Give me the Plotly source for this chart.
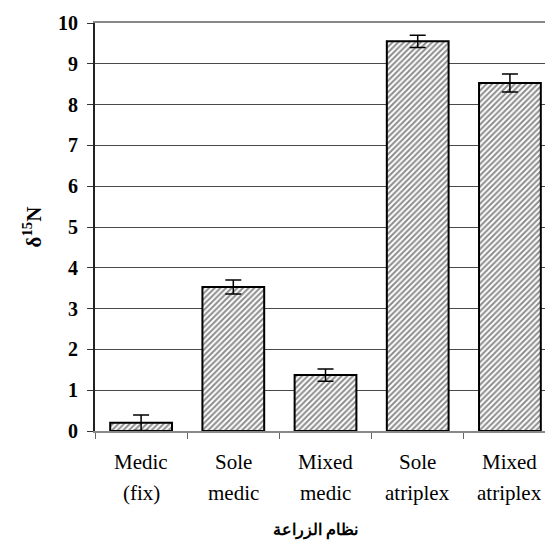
import plotly.graph_objects as go

categories = ["Medic (fix)", "Sole medic", "Mixed medic", "Sole atriplex", "Mixed atriplex"]
label_line1 = ["Medic", "Sole", "Mixed", "Sole", "Mixed"]
label_line2 = ["(fix)", "medic", "medic", "atriplex", "atriplex"]
values = [0.2, 3.53, 1.37, 9.55, 8.53]
errors = [0.19, 0.17, 0.15, 0.15, 0.22]
y_ticks = [0, 1, 2, 3, 4, 5, 6, 7, 8, 9, 10]

fig = go.Figure()
fig.add_trace(go.Bar(
    x=categories, y=values,
    marker=dict(
        color="white",
        line=dict(color="black", width=2),
        pattern=dict(shape="/", fgcolor="#1a1a1a", bgcolor="white", size=4, solidity=0.5),
    ),
    error_y=dict(type="data", array=errors, visible=True, color="black", thickness=1.5, width=8),
    showlegend=False,
))

for i, cat in enumerate(categories):
    fig.add_annotation(x=cat, xref="x", y=-0.076, yref="paper", text=label_line1[i],
                       showarrow=False, yanchor="middle",
                       font=dict(family="Liberation Serif", size=21, color="black"))
    fig.add_annotation(x=cat, xref="x", y=-0.152, yref="paper", text=label_line2[i],
                       showarrow=False, yanchor="middle",
                       font=dict(family="Liberation Serif", size=21, color="black"))

fig.add_annotation(x=0.474, xref="paper", y=-0.243, yref="paper", text="<b>نظام الزراعة</b>",
                   showarrow=False, yanchor="middle",
                   font=dict(family="Liberation Sans", size=16, color="black"))

fig.update_layout(
    width=553, height=544,
    margin=dict(l=87, r=0, t=15, b=121),
    paper_bgcolor="white", plot_bgcolor="white",
    bargap=0.33,
    xaxis=dict(
        type="category", range=[-0.5, 4.554],
        showticklabels=False,
        ticks="outside", ticklen=6, tickcolor="#666666", tickson="boundaries",
        showline=True, linecolor="#888888", linewidth=2, mirror=True,
        showgrid=False,
    ),
    yaxis=dict(
        range=[0, 10], tickvals=y_ticks,
        ticks="outside", ticklen=6, tickcolor="#333333",
        ticklabelstandoff=5,
        showline=True, linecolor="#222222", linewidth=2,
        showgrid=True, gridcolor="#4a4a4a", gridwidth=1,
        zeroline=False,
        tickfont=dict(family="Liberation Serif", size=20, color="black", weight="bold"),
        title=dict(text="<b>δ<sup>15</sup>N</b>", standoff=11,
                   font=dict(family="Liberation Serif", size=21, color="black")),
    ),
)

fig.write_html("out.html")
